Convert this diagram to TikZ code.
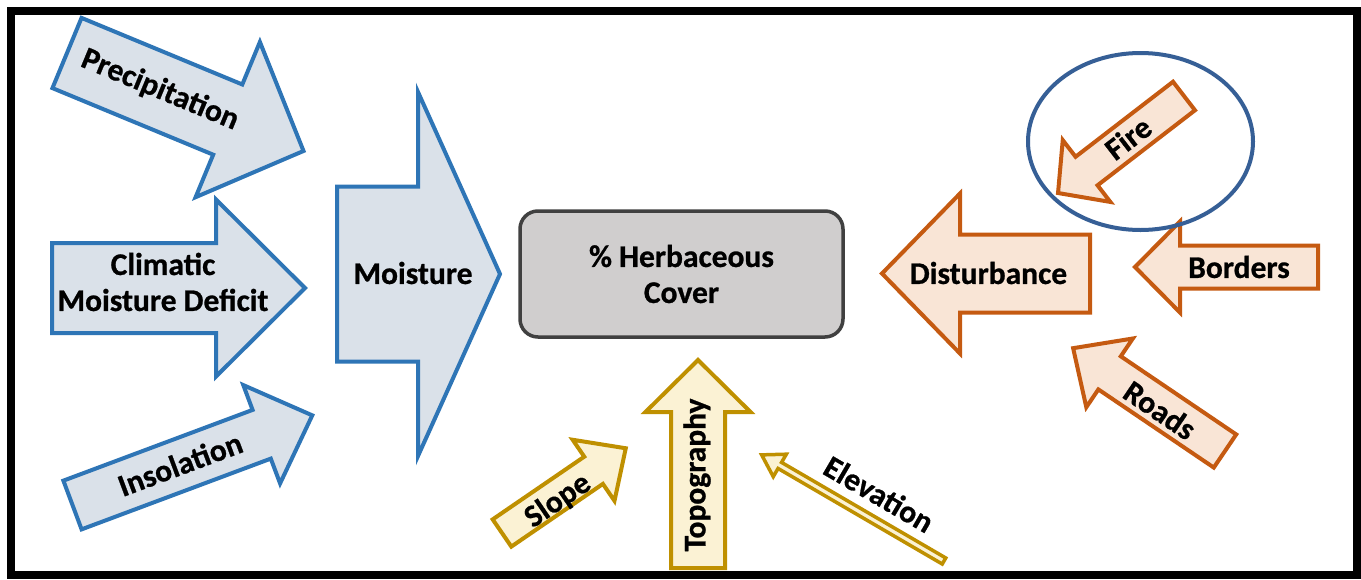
\documentclass[tikz,border=0pt]{standalone}
\usepackage{fontspec}
\setmainfont{Carlito}[BoldFeatures={FakeBold=0.8}]
\usetikzlibrary{shapes.geometric}
\definecolor{blueline}{HTML}{2E75B6}
\definecolor{bluefill}{HTML}{DAE1E9}
\definecolor{orangeline}{HTML}{C55A11}
\definecolor{orangefill}{HTML}{F9E5D6}
\definecolor{goldline}{HTML}{BF9000}
\definecolor{goldfill}{HTML}{FBF2D4}
\definecolor{boxfill}{HTML}{D0CECE}
\definecolor{boxline}{HTML}{404040}
\definecolor{ringblue}{HTML}{365F96}
\tikzset{
  lbl/.style={font=\bfseries\fontsize{31.5}{36}\selectfont, inner sep=0pt, align=center, text=black},
  bluearr/.style={draw=blueline, fill=bluefill, line width=4pt, line join=miter},
  orangearr/.style={draw=orangeline, fill=orangefill, line width=4pt, line join=miter},
  goldarr/.style={draw=goldline, fill=goldfill, line width=4pt, line join=miter},
  goldthin/.style={draw=goldline, fill=goldfill, line width=3.5pt, line join=miter},
  herbbox/.style={draw=boxline, fill=boxfill, line width=3.5pt, rounded corners=18pt,
    minimum width=323pt, minimum height=126pt, inner sep=0pt},
  ring/.style={draw=ringblue, line width=4pt, ellipse, inner sep=0pt,
    minimum width=225pt, minimum height=177pt},
}
% #1,#2 tail centre, #3 direction, #4 shaft length, #5 head length,
% #6 shaft width, #7 head width, #8 style
\newcommand\blockarrow[8]{%
  \begin{scope}[shift={(#1,#2)}, rotate=#3, x=1pt, y=1pt]
    \path[#8] (0,{#6/2}) -- ({#4},{#6/2}) -- ({#4},{#7/2}) -- ({#4+#5},0)
      -- ({#4},{-#7/2}) -- ({#4},{-#6/2}) -- (0,{-#6/2}) -- cycle;
  \end{scope}}
\begin{document}
\begin{tikzpicture}[x=1pt, y=-1pt]
\useasboundingbox (0,0) rectangle (1361,579);
\fill[white] (0,0) rectangle (1361,579);
\draw[line width=7.5pt] (11,11) rectangle (1357,575);

% moisture group
\blockarrow{67}{53}{-22.5}{174}{82}{76}{168}{bluearr}
\blockarrow{52}{288}{0}{164}{89}{90}{177}{bluearr}
\blockarrow{72.5}{505}{20.5}{202}{54}{52}{105}{bluearr}
\blockarrow{337}{274}{0}{81}{82}{175}{364}{bluearr}

% topography group
\blockarrow{698}{568}{90}{156}{52}{54}{105}{goldarr}
\blockarrow{502}{533}{34.4}{111}{39}{33}{74}{goldarr}
\blockarrow{944}{561}{149.8}{190}{21}{7}{26}{goldthin}

% disturbance group
\blockarrow{1090}{273.5}{180}{130}{78}{78}{160}{orangearr}
\blockarrow{1318}{267}{180}{138}{45}{43}{91}{orangearr}
\blockarrow{1184}{96}{217.6}{123}{36}{36}{78}{orangearr}
\blockarrow{1225}{451}{145.9}{139.4}{44}{40}{83}{orangearr}

% central box
\node[herbbox, lbl] (herb) at (681.5,274) {\% Herbaceous\\Cover};

% labels
\node[lbl, rotate=-22.5] (precip) at (160,90) {Precipitation};
\node[lbl] (cmd) at (163,282) {Climatic\\Moisture Deficit};
\node[lbl, rotate=20.5] (insol) at (180,464) {Insolation};
\node[lbl] (moist) at (413,273) {Moisture};
\node[lbl, rotate=90] (topo) at (697,475) {Topography};
\node[lbl, rotate=34.4] (slope) at (558,501) {Slope};
\node[lbl, rotate=-30.2] (elev) at (879,494) {Elevation};
\node[lbl] (dist) at (988.5,273) {Disturbance};
\node[lbl] (bord) at (1239,267) {Borders};
\node[lbl, rotate=37.6] (fire) at (1128,138) {Fire};
\node[lbl, rotate=-34.1] (roads) at (1160,410) {Roads};

% highlight ring
\node[ring] (firering) at (1140.5,141.5) {};
\end{tikzpicture}
\end{document}
